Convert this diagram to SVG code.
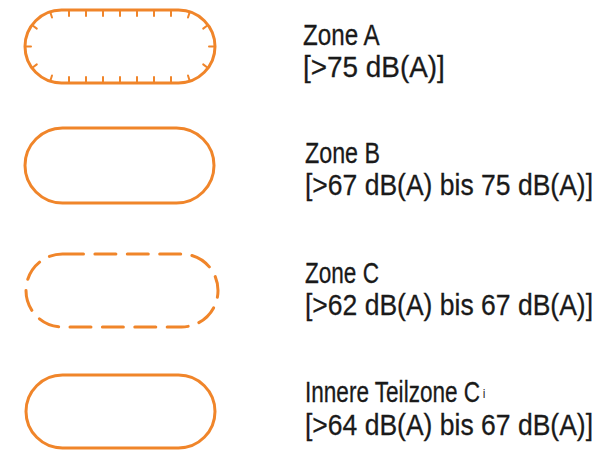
<svg xmlns="http://www.w3.org/2000/svg" width="609" height="450" viewBox="0 0 609 450">
<style>
.z{fill:none;stroke:#F0852A;stroke-width:3}
.t{stroke:#F0852A;stroke-width:2;stroke-linecap:round}
.d{stroke-dasharray:21 11.4;stroke-linecap:round}
text{font-family:"Liberation Sans",Arial,sans-serif;font-size:30px;fill:#1a1a1a;stroke:#1a1a1a;stroke-width:0.3}
.s{font-size:13px;stroke-width:0.2}
</style>
<rect width="609" height="450" fill="#fff"/>
<g id="zoneA">
<rect class="z" x="25" y="10" width="190" height="73" rx="36.5" ry="36.5"/>
<g class="t">
<line x1="69" y1="10" x2="69" y2="16"/><line x1="86" y1="10" x2="86" y2="16"/><line x1="103" y1="10" x2="103" y2="16"/><line x1="120" y1="10" x2="120" y2="16"/><line x1="137" y1="10" x2="137" y2="16"/><line x1="154" y1="10" x2="154" y2="16"/><line x1="171" y1="10" x2="171" y2="16"/>
<line x1="69" y1="83" x2="69" y2="77"/><line x1="86" y1="83" x2="86" y2="77"/><line x1="103" y1="83" x2="103" y2="77"/><line x1="120" y1="83" x2="120" y2="77"/><line x1="137" y1="83" x2="137" y2="77"/><line x1="154" y1="83" x2="154" y2="77"/><line x1="171" y1="83" x2="171" y2="77"/>
<line x1="50.2" y1="11.8" x2="52" y2="17.5"/><line x1="32" y1="25" x2="36.8" y2="28.6"/><line x1="25" y1="46.5" x2="31" y2="46.5"/><line x1="32" y1="68" x2="36.8" y2="64.4"/><line x1="50.2" y1="81.2" x2="52" y2="75.5"/>
<line x1="189.8" y1="11.8" x2="188" y2="17.5"/><line x1="208" y1="25" x2="203.2" y2="28.6"/><line x1="215" y1="46.5" x2="209" y2="46.5"/><line x1="208" y1="68" x2="203.2" y2="64.4"/><line x1="189.8" y1="81.2" x2="188" y2="75.5"/>
</g>
<text transform="translate(303,45) scale(0.807,1)">Zone A</text>
<text transform="translate(303,77) scale(0.93,1)">[&gt;75 dB(A)]</text>
</g>
<g id="zoneB">
<rect class="z" x="25" y="128" width="189" height="75" rx="37.5" ry="37.5"/>
<text transform="translate(305,163) scale(0.776,1)">Zone B</text>
<text transform="translate(305,195) scale(0.884,1)">[&gt;67 dB(A) bis 75 dB(A)]</text>
</g>
<g id="zoneC">
<path class="z d" d="M62.5,254 H181.5 A36.5,36.5 0 0 1 181.5,327 H62.5 A36.5,36.5 0 0 1 62.5,254 Z"/>
<text transform="translate(305,283) scale(0.752,1)">Zone C</text>
<text transform="translate(305,315) scale(0.884,1)">[&gt;62 dB(A) bis 67 dB(A)]</text>
</g>
<g id="zoneCi">
<rect class="z" x="26" y="375" width="189" height="73" rx="36.5" ry="36.5"/>
<text transform="translate(305,402) scale(0.752,1)">Innere Teilzone C<tspan class="s" dx="4" dy="-4">i</tspan></text>
<text transform="translate(305,435) scale(0.884,1)">[&gt;64 dB(A) bis 67 dB(A)]</text>
</g>
</svg>
